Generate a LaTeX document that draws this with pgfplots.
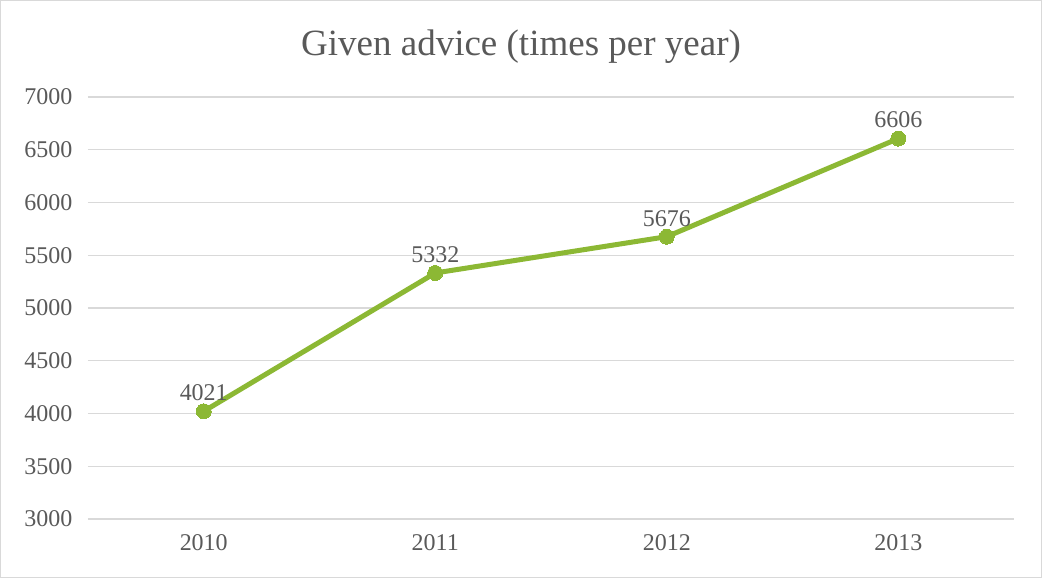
\documentclass[border=0pt]{standalone}
\usepackage{pgfplots}
\pgfplotsset{compat=1.18}
\usepackage{fontspec}
\setmainfont{Liberation Serif}
\definecolor{txt}{HTML}{595959}
\definecolor{grid}{HTML}{D9D9D9}
\definecolor{lgreen}{HTML}{8CB834}
\begin{document}
\begin{tikzpicture}[x=1pt,y=1pt]
\useasboundingbox (0,0) rectangle (1042,578);
\draw[grid, line width=1.2pt] (0.6,0.6) rectangle (1041.4,577.4);
\node[text=txt, font=\fontsize{37}{40}\selectfont] at (521,531) {Given advice (times per year)};
\begin{axis}[
  at={(88pt,59pt)}, anchor=south west,
  scale only axis, width=926pt, height=422pt,
  xmin=-0.5, xmax=3.5, ymin=3000, ymax=7000,
  xtick={0,1,2,3}, xticklabels={2010,2011,2012,2013},
  ytick={3000,3500,...,7000},
  axis line style={draw=none},
  xmajorgrids=false, ymajorgrids=true,
  y grid style={grid, line width=1.2pt},
  tick style={draw=none},
  major tick length=0pt,
  tick label style={text=txt, font=\fontsize{24}{26}\selectfont},
  /pgf/number format/assume math mode=true,
  /pgf/number format/1000 sep={},
  yticklabel style={xshift=-12pt},
  xticklabel style={yshift=-12pt},
  clip=false,
]
\draw[grid, line width=1.2pt] (axis cs:-0.5,3000) -- (axis cs:3.5,3000);
\addplot[lgreen, line width=5pt, mark=*, mark size=7.5pt, mark options={fill=lgreen, draw=lgreen, line width=0pt},
  nodes near coords, every node near coord/.append style={text=txt, font=\fontsize{24}{26}\selectfont, yshift=7pt},
  point meta=explicit symbolic]
  coordinates {(0,4021)[4021] (1,5332)[5332] (2,5676)[5676] (3,6606)[6606]};
\end{axis}
\end{tikzpicture}
\end{document}
